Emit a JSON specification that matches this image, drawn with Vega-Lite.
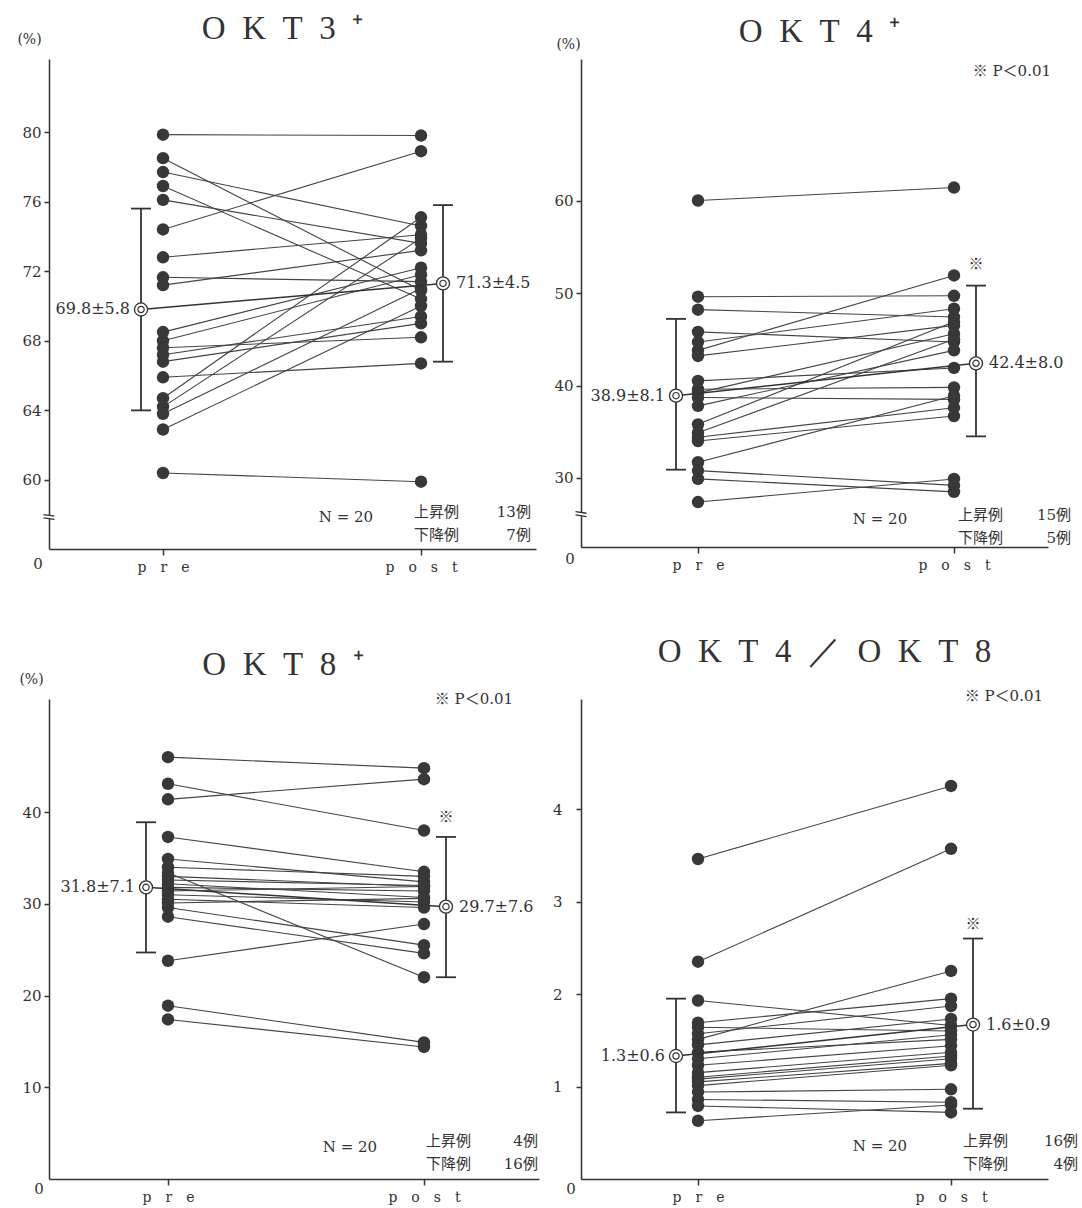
{
"$schema": "https://vega.github.io/schema/vega-lite/v6.json",
"padding": {"left": 16, "top": 13, "right": 10, "bottom": 2},
"background": "white",
"datasets": {
"pts": [
{"panel":"OKT3","subject":1,"time":0,"value":79.85},{"panel":"OKT3","subject":1,"time":1,"value":79.8},
{"panel":"OKT3","subject":2,"time":0,"value":78.5},{"panel":"OKT3","subject":2,"time":1,"value":70.9},
{"panel":"OKT3","subject":3,"time":0,"value":77.7},{"panel":"OKT3","subject":3,"time":1,"value":74.6},
{"panel":"OKT3","subject":4,"time":0,"value":76.9},{"panel":"OKT3","subject":4,"time":1,"value":70.4},
{"panel":"OKT3","subject":5,"time":0,"value":76.1},{"panel":"OKT3","subject":5,"time":1,"value":73.6},
{"panel":"OKT3","subject":6,"time":0,"value":74.4},{"panel":"OKT3","subject":6,"time":1,"value":78.9},
{"panel":"OKT3","subject":7,"time":0,"value":72.8},{"panel":"OKT3","subject":7,"time":1,"value":74.1},
{"panel":"OKT3","subject":8,"time":0,"value":71.65},{"panel":"OKT3","subject":8,"time":1,"value":71.4},
{"panel":"OKT3","subject":9,"time":0,"value":71.2},{"panel":"OKT3","subject":9,"time":1,"value":73.2},
{"panel":"OKT3","subject":10,"time":0,"value":68.5},{"panel":"OKT3","subject":10,"time":1,"value":72.2},
{"panel":"OKT3","subject":11,"time":0,"value":68.0},{"panel":"OKT3","subject":11,"time":1,"value":71.8},
{"panel":"OKT3","subject":12,"time":0,"value":67.6},{"panel":"OKT3","subject":12,"time":1,"value":68.2},
{"panel":"OKT3","subject":13,"time":0,"value":67.2},{"panel":"OKT3","subject":13,"time":1,"value":69.4},
{"panel":"OKT3","subject":14,"time":0,"value":66.8},{"panel":"OKT3","subject":14,"time":1,"value":69.0},
{"panel":"OKT3","subject":15,"time":0,"value":65.9},{"panel":"OKT3","subject":15,"time":1,"value":66.7},
{"panel":"OKT3","subject":16,"time":0,"value":64.7},{"panel":"OKT3","subject":16,"time":1,"value":75.1},
{"panel":"OKT3","subject":17,"time":0,"value":64.2},{"panel":"OKT3","subject":17,"time":1,"value":73.9},
{"panel":"OKT3","subject":18,"time":0,"value":63.8},{"panel":"OKT3","subject":18,"time":1,"value":71.0},
{"panel":"OKT3","subject":19,"time":0,"value":62.9},{"panel":"OKT3","subject":19,"time":1,"value":70.0},
{"panel":"OKT3","subject":20,"time":0,"value":60.4},{"panel":"OKT3","subject":20,"time":1,"value":59.9},
{"panel":"OKT4","subject":1,"time":0,"value":60.0},{"panel":"OKT4","subject":1,"time":1,"value":61.4},
{"panel":"OKT4","subject":2,"time":0,"value":49.6},{"panel":"OKT4","subject":2,"time":1,"value":49.7},
{"panel":"OKT4","subject":3,"time":0,"value":48.2},{"panel":"OKT4","subject":3,"time":1,"value":47.4},
{"panel":"OKT4","subject":4,"time":0,"value":45.8},{"panel":"OKT4","subject":4,"time":1,"value":44.7},
{"panel":"OKT4","subject":5,"time":0,"value":44.7},{"panel":"OKT4","subject":5,"time":1,"value":48.3},
{"panel":"OKT4","subject":6,"time":0,"value":43.8},{"panel":"OKT4","subject":6,"time":1,"value":51.9},
{"panel":"OKT4","subject":7,"time":0,"value":43.2},{"panel":"OKT4","subject":7,"time":1,"value":46.5},
{"panel":"OKT4","subject":8,"time":0,"value":40.5},{"panel":"OKT4","subject":8,"time":1,"value":41.9},
{"panel":"OKT4","subject":9,"time":0,"value":39.6},{"panel":"OKT4","subject":9,"time":1,"value":39.8},
{"panel":"OKT4","subject":10,"time":0,"value":39.2},{"panel":"OKT4","subject":10,"time":1,"value":45.6},
{"panel":"OKT4","subject":11,"time":0,"value":38.7},{"panel":"OKT4","subject":11,"time":1,"value":38.5},
{"panel":"OKT4","subject":12,"time":0,"value":37.8},{"panel":"OKT4","subject":12,"time":1,"value":43.8},
{"panel":"OKT4","subject":13,"time":0,"value":35.8},{"panel":"OKT4","subject":13,"time":1,"value":46.9},
{"panel":"OKT4","subject":14,"time":0,"value":34.9},{"panel":"OKT4","subject":14,"time":1,"value":45.0},
{"panel":"OKT4","subject":15,"time":0,"value":34.4},{"panel":"OKT4","subject":15,"time":1,"value":37.6},
{"panel":"OKT4","subject":16,"time":0,"value":34.0},{"panel":"OKT4","subject":16,"time":1,"value":36.7},
{"panel":"OKT4","subject":17,"time":0,"value":31.7},{"panel":"OKT4","subject":17,"time":1,"value":38.9},
{"panel":"OKT4","subject":18,"time":0,"value":30.8},{"panel":"OKT4","subject":18,"time":1,"value":29.2},
{"panel":"OKT4","subject":19,"time":0,"value":29.9},{"panel":"OKT4","subject":19,"time":1,"value":28.5},
{"panel":"OKT4","subject":20,"time":0,"value":27.4},{"panel":"OKT4","subject":20,"time":1,"value":29.9},
{"panel":"OKT8","subject":1,"time":0,"value":46.0},{"panel":"OKT8","subject":1,"time":1,"value":44.8},
{"panel":"OKT8","subject":2,"time":0,"value":43.1},{"panel":"OKT8","subject":2,"time":1,"value":38.0},
{"panel":"OKT8","subject":3,"time":0,"value":41.4},{"panel":"OKT8","subject":3,"time":1,"value":43.6},
{"panel":"OKT8","subject":4,"time":0,"value":37.3},{"panel":"OKT8","subject":4,"time":1,"value":33.5},
{"panel":"OKT8","subject":5,"time":0,"value":34.9},{"panel":"OKT8","subject":5,"time":1,"value":32.4},
{"panel":"OKT8","subject":6,"time":0,"value":34.0},{"panel":"OKT8","subject":6,"time":1,"value":33.0},
{"panel":"OKT8","subject":7,"time":0,"value":33.4},{"panel":"OKT8","subject":7,"time":1,"value":22.0},
{"panel":"OKT8","subject":8,"time":0,"value":33.0},{"panel":"OKT8","subject":8,"time":1,"value":31.9},
{"panel":"OKT8","subject":9,"time":0,"value":32.6},{"panel":"OKT8","subject":9,"time":1,"value":32.0},
{"panel":"OKT8","subject":10,"time":0,"value":32.2},{"panel":"OKT8","subject":10,"time":1,"value":30.7},
{"panel":"OKT8","subject":11,"time":0,"value":31.8},{"panel":"OKT8","subject":11,"time":1,"value":31.4},
{"panel":"OKT8","subject":12,"time":0,"value":31.4},{"panel":"OKT8","subject":12,"time":1,"value":31.9},
{"panel":"OKT8","subject":13,"time":0,"value":31.0},{"panel":"OKT8","subject":13,"time":1,"value":30.2},
{"panel":"OKT8","subject":14,"time":0,"value":30.5},{"panel":"OKT8","subject":14,"time":1,"value":29.6},
{"panel":"OKT8","subject":15,"time":0,"value":30.1},{"panel":"OKT8","subject":15,"time":1,"value":30.6},
{"panel":"OKT8","subject":16,"time":0,"value":29.6},{"panel":"OKT8","subject":16,"time":1,"value":25.5},
{"panel":"OKT8","subject":17,"time":0,"value":28.6},{"panel":"OKT8","subject":17,"time":1,"value":24.6},
{"panel":"OKT8","subject":18,"time":0,"value":23.8},{"panel":"OKT8","subject":18,"time":1,"value":27.8},
{"panel":"OKT8","subject":19,"time":0,"value":18.9},{"panel":"OKT8","subject":19,"time":1,"value":14.9},
{"panel":"OKT8","subject":20,"time":0,"value":17.4},{"panel":"OKT8","subject":20,"time":1,"value":14.4},
{"panel":"OKT4/OKT8","subject":1,"time":0,"value":3.46},{"panel":"OKT4/OKT8","subject":1,"time":1,"value":4.25},
{"panel":"OKT4/OKT8","subject":2,"time":0,"value":2.35},{"panel":"OKT4/OKT8","subject":2,"time":1,"value":3.57},
{"panel":"OKT4/OKT8","subject":3,"time":0,"value":1.93},{"panel":"OKT4/OKT8","subject":3,"time":1,"value":1.66},
{"panel":"OKT4/OKT8","subject":4,"time":0,"value":1.69},{"panel":"OKT4/OKT8","subject":4,"time":1,"value":1.95},
{"panel":"OKT4/OKT8","subject":5,"time":0,"value":1.64},{"panel":"OKT4/OKT8","subject":5,"time":1,"value":1.60},
{"panel":"OKT4/OKT8","subject":6,"time":0,"value":1.57},{"panel":"OKT4/OKT8","subject":6,"time":1,"value":1.87},
{"panel":"OKT4/OKT8","subject":7,"time":0,"value":1.51},{"panel":"OKT4/OKT8","subject":7,"time":1,"value":2.25},
{"panel":"OKT4/OKT8","subject":8,"time":0,"value":1.45},{"panel":"OKT4/OKT8","subject":8,"time":1,"value":1.73},
{"panel":"OKT4/OKT8","subject":9,"time":0,"value":1.37},{"panel":"OKT4/OKT8","subject":9,"time":1,"value":1.51},
{"panel":"OKT4/OKT8","subject":10,"time":0,"value":1.30},{"panel":"OKT4/OKT8","subject":10,"time":1,"value":1.56},
{"panel":"OKT4/OKT8","subject":11,"time":0,"value":1.23},{"panel":"OKT4/OKT8","subject":11,"time":1,"value":1.44},
{"panel":"OKT4/OKT8","subject":12,"time":0,"value":1.15},{"panel":"OKT4/OKT8","subject":12,"time":1,"value":1.37},
{"panel":"OKT4/OKT8","subject":13,"time":0,"value":1.10},{"panel":"OKT4/OKT8","subject":13,"time":1,"value":1.33},
{"panel":"OKT4/OKT8","subject":14,"time":0,"value":1.08},{"panel":"OKT4/OKT8","subject":14,"time":1,"value":1.30},
{"panel":"OKT4/OKT8","subject":15,"time":0,"value":1.05},{"panel":"OKT4/OKT8","subject":15,"time":1,"value":1.25},
{"panel":"OKT4/OKT8","subject":16,"time":0,"value":1.01},{"panel":"OKT4/OKT8","subject":16,"time":1,"value":1.23},
{"panel":"OKT4/OKT8","subject":17,"time":0,"value":0.94},{"panel":"OKT4/OKT8","subject":17,"time":1,"value":0.97},
{"panel":"OKT4/OKT8","subject":18,"time":0,"value":0.86},{"panel":"OKT4/OKT8","subject":18,"time":1,"value":0.83},
{"panel":"OKT4/OKT8","subject":19,"time":0,"value":0.79},{"panel":"OKT4/OKT8","subject":19,"time":1,"value":0.72},
{"panel":"OKT4/OKT8","subject":20,"time":0,"value":0.63},{"panel":"OKT4/OKT8","subject":20,"time":1,"value":0.80}
],
"sum": [
{"panel":"OKT3","preMean":69.8,"preLo":64.0,"preHi":75.6,"postMean":71.3,"postLo":66.8,"postHi":75.8,"preLabel":"69.8±5.8","postLabel":"71.3±4.5"},
{"panel":"OKT4","preMean":38.9,"preLo":30.9,"preHi":47.2,"postMean":42.4,"postLo":34.5,"postHi":50.8,"preLabel":"38.9±8.1","postLabel":"42.4±8.0"},
{"panel":"OKT8","preMean":31.8,"preLo":24.7,"preHi":38.9,"postMean":29.7,"postLo":22.0,"postHi":37.3,"preLabel":"31.8±7.1","postLabel":"29.7±7.6"},
{"panel":"OKT4/OKT8","preMean":1.33,"preLo":0.72,"preHi":1.95,"postMean":1.67,"postLo":0.76,"postHi":2.6,"preLabel":"1.3±0.6","postLabel":"1.6±0.9"}
]
},
"columns": 2,
"spacing": {"row": 150, "column": 42},
"bounds": "flush",
"align": "each",
"resolve": {"scale": {"x": "independent", "y": "independent"}},
"concat": [
{
"width": 487, "height": 490,
"title": {"text": "O\u2002K\u2002T\u20023\u2002\u207a", "dx": -10, "offset": -14, "fontSize": 33},
"layer": [
{"data": {"name": "pts"}, "transform": [{"filter": "datum.panel == 'OKT3'"}],
"mark": {"type": "line", "color": "#444", "strokeWidth": 1.1},
"encoding": {
"x": {"field": "time", "type": "quantitative", "scale": {"domain": [-0.4419, 1.4457], "nice": false, "zero": false}, "axis": {"values": [0, 1], "labelExpr": "datum.value == 0 ? 'p\u2003r\u2003e' : 'p\u2003o\u2003s\u2003t'", "title": null}},
"y": {"field": "value", "type": "quantitative", "scale": {"domain": [56.03, 84.2], "nice": false, "zero": false}, "axis": {"values": [60, 64, 68, 72, 76, 80], "title": "(%)", "titleX": -20, "titleY": -20}},
"detail": {"field": "subject", "type": "nominal"}}},
{"data": {"name": "pts"}, "transform": [{"filter": "datum.panel == 'OKT3'"}],
"mark": {"type": "point", "filled": true, "size": 155, "color": "#383838", "opacity": 1},
"encoding": {"x": {"field": "time", "type": "quantitative"}, "y": {"field": "value", "type": "quantitative"}}},
{"data": {"name": "sum"}, "transform": [{"filter": "datum.panel == 'OKT3'"}],
"layer": [
{"mark": {"type": "rule", "color": "#333", "strokeWidth": 1.5, "xOffset": -22, "x2Offset": 22}, "encoding": {"x": {"datum": 0}, "x2": {"datum": 1}, "y": {"field": "preMean", "type": "quantitative"}, "y2": {"field": "postMean"}}},
{"mark": {"type": "rule", "color": "#333", "strokeWidth": 1.8, "xOffset": -22}, "encoding": {"x": {"datum": 0}, "y": {"field": "preLo", "type": "quantitative"}, "y2": {"field": "preHi"}}},
{"mark": {"type": "rule", "color": "#333", "strokeWidth": 1.8, "xOffset": 22}, "encoding": {"x": {"datum": 1}, "y": {"field": "postLo", "type": "quantitative"}, "y2": {"field": "postHi"}}},
{"transform": [{"fold": ["preLo", "preHi"], "as": ["k", "v"]}], "mark": {"type": "point", "shape": "stroke", "size": 400, "filled": false, "stroke": "#333", "strokeWidth": 1.8, "opacity": 1, "xOffset": -22}, "encoding": {"x": {"datum": 0}, "y": {"field": "v", "type": "quantitative"}}},
{"transform": [{"fold": ["postLo", "postHi"], "as": ["k", "v"]}], "mark": {"type": "point", "shape": "stroke", "size": 400, "filled": false, "stroke": "#333", "strokeWidth": 1.8, "opacity": 1, "xOffset": 22}, "encoding": {"x": {"datum": 1}, "y": {"field": "v", "type": "quantitative"}}},
{"mark": {"type": "point", "shape": "circle", "size": 170, "filled": true, "fill": "white", "stroke": "#333", "strokeWidth": 1.3, "opacity": 1, "xOffset": -22}, "encoding": {"x": {"datum": 0}, "y": {"field": "preMean", "type": "quantitative"}}},
{"mark": {"type": "point", "shape": "circle", "size": 40, "filled": false, "stroke": "#333", "strokeWidth": 1.2, "opacity": 1, "xOffset": -22}, "encoding": {"x": {"datum": 0}, "y": {"field": "preMean", "type": "quantitative"}}},
{"mark": {"type": "point", "shape": "circle", "size": 170, "filled": true, "fill": "white", "stroke": "#333", "strokeWidth": 1.3, "opacity": 1, "xOffset": 22}, "encoding": {"x": {"datum": 1}, "y": {"field": "postMean", "type": "quantitative"}}},
{"mark": {"type": "point", "shape": "circle", "size": 40, "filled": false, "stroke": "#333", "strokeWidth": 1.2, "opacity": 1, "xOffset": 22}, "encoding": {"x": {"datum": 1}, "y": {"field": "postMean", "type": "quantitative"}}},
{"mark": {"type": "text", "align": "right", "baseline": "middle", "dx": -33, "fontSize": 16}, "encoding": {"x": {"datum": 0}, "y": {"field": "preMean", "type": "quantitative"}, "text": {"field": "preLabel"}}},
{"mark": {"type": "text", "align": "left", "baseline": "middle", "dx": 35, "fontSize": 16}, "encoding": {"x": {"datum": 1}, "y": {"field": "postMean", "type": "quantitative"}, "text": {"field": "postLabel"}}},
{"mark": {"type": "text", "text": "0", "dx": -11, "dy": 15}, "encoding": {"x": {"datum": -0.4419}, "y": {"datum": 56.03}}},
{"mark": {"type": "point", "shape": "square", "size": 14, "filled": true, "color": "white", "opacity": 1}, "encoding": {"x": {"datum": -0.4419}, "y": {"datum": 57.87}}},
{"mark": {"type": "point", "shape": "M-1,-0.45L1,-0.15M-1,0.15L1,0.45", "size": 121, "filled": false, "stroke": "#333", "strokeWidth": 1.3, "opacity": 1}, "encoding": {"x": {"datum": -0.4419}, "y": {"datum": 57.87}}},
{"mark": {"type": "text", "text": "N = 20", "baseline": "middle"}, "encoding": {"x": {"datum": 0.709}, "y": {"datum": 57.87}}},
{"mark": {"type": "text", "text": ["上昇例", "下降例"], "align": "left", "baseline": "middle", "lineHeight": 23, "font": "Noto Sans CJK JP", "fontSize": 15}, "encoding": {"x": {"datum": 0.973}, "y": {"datum": 58.13}}},
{"mark": {"type": "text", "text": ["13例", "7例"], "align": "right", "baseline": "middle", "lineHeight": 23, "font": "DejaVu Serif, Noto Sans CJK JP", "fontSize": 15}, "encoding": {"x": {"datum": 1.426}, "y": {"datum": 58.13}}}
]}
]
},
{
"width": 467, "height": 488,
"title": {"text": "O\u2002K\u2002T\u20024\u2002\u207a", "dx": 5, "offset": -12, "fontSize": 33},
"layer": [
{"data": {"name": "pts"}, "transform": [{"filter": "datum.panel == 'OKT4'"}],
"mark": {"type": "line", "color": "#444", "strokeWidth": 1.1},
"encoding": {
"x": {"field": "time", "type": "quantitative", "scale": {"domain": [-0.457, 1.3672], "nice": false, "zero": false}, "axis": {"values": [0, 1], "labelExpr": "datum.value == 0 ? 'p\u2003r\u2003e' : 'p\u2003o\u2003s\u2003t'", "title": null}},
"y": {"field": "value", "type": "quantitative", "scale": {"domain": [22.54, 75.3], "nice": false, "zero": false}, "axis": {"values": [30, 40, 50, 60], "title": "(%)", "titleX": -13, "titleY": -15}},
"detail": {"field": "subject", "type": "nominal"}}},
{"data": {"name": "pts"}, "transform": [{"filter": "datum.panel == 'OKT4'"}],
"mark": {"type": "point", "filled": true, "size": 155, "color": "#383838", "opacity": 1},
"encoding": {"x": {"field": "time", "type": "quantitative"}, "y": {"field": "value", "type": "quantitative"}}},
{"data": {"name": "sum"}, "transform": [{"filter": "datum.panel == 'OKT4'"}],
"layer": [
{"mark": {"type": "rule", "color": "#333", "strokeWidth": 1.5, "xOffset": -22, "x2Offset": 22}, "encoding": {"x": {"datum": 0}, "x2": {"datum": 1}, "y": {"field": "preMean", "type": "quantitative"}, "y2": {"field": "postMean"}}},
{"mark": {"type": "rule", "color": "#333", "strokeWidth": 1.8, "xOffset": -22}, "encoding": {"x": {"datum": 0}, "y": {"field": "preLo", "type": "quantitative"}, "y2": {"field": "preHi"}}},
{"mark": {"type": "rule", "color": "#333", "strokeWidth": 1.8, "xOffset": 22}, "encoding": {"x": {"datum": 1}, "y": {"field": "postLo", "type": "quantitative"}, "y2": {"field": "postHi"}}},
{"transform": [{"fold": ["preLo", "preHi"], "as": ["k", "v"]}], "mark": {"type": "point", "shape": "stroke", "size": 400, "filled": false, "stroke": "#333", "strokeWidth": 1.8, "opacity": 1, "xOffset": -22}, "encoding": {"x": {"datum": 0}, "y": {"field": "v", "type": "quantitative"}}},
{"transform": [{"fold": ["postLo", "postHi"], "as": ["k", "v"]}], "mark": {"type": "point", "shape": "stroke", "size": 400, "filled": false, "stroke": "#333", "strokeWidth": 1.8, "opacity": 1, "xOffset": 22}, "encoding": {"x": {"datum": 1}, "y": {"field": "v", "type": "quantitative"}}},
{"mark": {"type": "point", "shape": "circle", "size": 170, "filled": true, "fill": "white", "stroke": "#333", "strokeWidth": 1.3, "opacity": 1, "xOffset": -22}, "encoding": {"x": {"datum": 0}, "y": {"field": "preMean", "type": "quantitative"}}},
{"mark": {"type": "point", "shape": "circle", "size": 40, "filled": false, "stroke": "#333", "strokeWidth": 1.2, "opacity": 1, "xOffset": -22}, "encoding": {"x": {"datum": 0}, "y": {"field": "preMean", "type": "quantitative"}}},
{"mark": {"type": "point", "shape": "circle", "size": 170, "filled": true, "fill": "white", "stroke": "#333", "strokeWidth": 1.3, "opacity": 1, "xOffset": 22}, "encoding": {"x": {"datum": 1}, "y": {"field": "postMean", "type": "quantitative"}}},
{"mark": {"type": "point", "shape": "circle", "size": 40, "filled": false, "stroke": "#333", "strokeWidth": 1.2, "opacity": 1, "xOffset": 22}, "encoding": {"x": {"datum": 1}, "y": {"field": "postMean", "type": "quantitative"}}},
{"mark": {"type": "text", "align": "right", "baseline": "middle", "dx": -33, "fontSize": 16}, "encoding": {"x": {"datum": 0}, "y": {"field": "preMean", "type": "quantitative"}, "text": {"field": "preLabel"}}},
{"mark": {"type": "text", "align": "left", "baseline": "middle", "dx": 35, "fontSize": 16}, "encoding": {"x": {"datum": 1}, "y": {"field": "postMean", "type": "quantitative"}, "text": {"field": "postLabel"}}},
{"mark": {"type": "text", "text": "0", "dx": -11, "dy": 12}, "encoding": {"x": {"datum": -0.457}, "y": {"datum": 22.54}}},
{"mark": {"type": "point", "shape": "square", "size": 14, "filled": true, "color": "white", "opacity": 1}, "encoding": {"x": {"datum": -0.457}, "y": {"datum": 26.1}}},
{"mark": {"type": "point", "shape": "M-1,-0.45L1,-0.15M-1,0.15L1,0.45", "size": 121, "filled": false, "stroke": "#333", "strokeWidth": 1.3, "opacity": 1}, "encoding": {"x": {"datum": -0.457}, "y": {"datum": 26.1}}},
{"mark": {"type": "text", "text": "N = 20", "baseline": "middle"}, "encoding": {"x": {"datum": 0.711}, "y": {"datum": 25.57}}},
{"mark": {"type": "text", "text": ["上昇例", "下降例"], "align": "left", "baseline": "middle", "lineHeight": 23, "font": "Noto Sans CJK JP", "fontSize": 15}, "encoding": {"x": {"datum": 1.016}, "y": {"datum": 25.95}}},
{"mark": {"type": "text", "text": ["15例", "5例"], "align": "right", "baseline": "middle", "lineHeight": 23, "font": "DejaVu Serif, Noto Sans CJK JP", "fontSize": 15}, "encoding": {"x": {"datum": 1.457}, "y": {"datum": 25.95}}},
{"mark": {"type": "text", "text": "※ P＜0.01", "align": "right", "baseline": "middle", "font": "DejaVu Serif, Noto Sans CJK JP", "fontSize": 15}, "encoding": {"x": {"datum": 1.379}, "y": {"datum": 74.0}}},
{"mark": {"type": "text", "text": "※", "baseline": "middle", "dx": 22, "font": "Noto Sans CJK JP", "fontSize": 15}, "encoding": {"x": {"datum": 1}, "y": {"datum": 53.1}}}
]}
]
},
{
"width": 490, "height": 480,
"title": {"text": "O\u2002K\u2002T\u20028\u2002\u207a", "dx": -11, "offset": -10, "fontSize": 33},
"layer": [
{"data": {"name": "pts"}, "transform": [{"filter": "datum.panel == 'OKT8'"}],
"mark": {"type": "line", "color": "#444", "strokeWidth": 1.1},
"encoding": {
"x": {"field": "time", "type": "quantitative", "scale": {"domain": [-0.4648, 1.4493], "nice": false, "zero": false}, "axis": {"values": [0, 1], "labelExpr": "datum.value == 0 ? 'p\u2003r\u2003e' : 'p\u2003o\u2003s\u2003t'", "title": null}},
"y": {"field": "value", "type": "quantitative", "scale": {"domain": [0, 52.34], "nice": false, "zero": false}, "axis": {"values": [10, 20, 30, 40], "title": "(%)", "titleX": -18, "titleY": -20}},
"detail": {"field": "subject", "type": "nominal"}}},
{"data": {"name": "pts"}, "transform": [{"filter": "datum.panel == 'OKT8'"}],
"mark": {"type": "point", "filled": true, "size": 155, "color": "#383838", "opacity": 1},
"encoding": {"x": {"field": "time", "type": "quantitative"}, "y": {"field": "value", "type": "quantitative"}}},
{"data": {"name": "sum"}, "transform": [{"filter": "datum.panel == 'OKT8'"}],
"layer": [
{"mark": {"type": "rule", "color": "#333", "strokeWidth": 1.5, "xOffset": -22, "x2Offset": 22}, "encoding": {"x": {"datum": 0}, "x2": {"datum": 1}, "y": {"field": "preMean", "type": "quantitative"}, "y2": {"field": "postMean"}}},
{"mark": {"type": "rule", "color": "#333", "strokeWidth": 1.8, "xOffset": -22}, "encoding": {"x": {"datum": 0}, "y": {"field": "preLo", "type": "quantitative"}, "y2": {"field": "preHi"}}},
{"mark": {"type": "rule", "color": "#333", "strokeWidth": 1.8, "xOffset": 22}, "encoding": {"x": {"datum": 1}, "y": {"field": "postLo", "type": "quantitative"}, "y2": {"field": "postHi"}}},
{"transform": [{"fold": ["preLo", "preHi"], "as": ["k", "v"]}], "mark": {"type": "point", "shape": "stroke", "size": 400, "filled": false, "stroke": "#333", "strokeWidth": 1.8, "opacity": 1, "xOffset": -22}, "encoding": {"x": {"datum": 0}, "y": {"field": "v", "type": "quantitative"}}},
{"transform": [{"fold": ["postLo", "postHi"], "as": ["k", "v"]}], "mark": {"type": "point", "shape": "stroke", "size": 400, "filled": false, "stroke": "#333", "strokeWidth": 1.8, "opacity": 1, "xOffset": 22}, "encoding": {"x": {"datum": 1}, "y": {"field": "v", "type": "quantitative"}}},
{"mark": {"type": "point", "shape": "circle", "size": 170, "filled": true, "fill": "white", "stroke": "#333", "strokeWidth": 1.3, "opacity": 1, "xOffset": -22}, "encoding": {"x": {"datum": 0}, "y": {"field": "preMean", "type": "quantitative"}}},
{"mark": {"type": "point", "shape": "circle", "size": 40, "filled": false, "stroke": "#333", "strokeWidth": 1.2, "opacity": 1, "xOffset": -22}, "encoding": {"x": {"datum": 0}, "y": {"field": "preMean", "type": "quantitative"}}},
{"mark": {"type": "point", "shape": "circle", "size": 170, "filled": true, "fill": "white", "stroke": "#333", "strokeWidth": 1.3, "opacity": 1, "xOffset": 22}, "encoding": {"x": {"datum": 1}, "y": {"field": "postMean", "type": "quantitative"}}},
{"mark": {"type": "point", "shape": "circle", "size": 40, "filled": false, "stroke": "#333", "strokeWidth": 1.2, "opacity": 1, "xOffset": 22}, "encoding": {"x": {"datum": 1}, "y": {"field": "postMean", "type": "quantitative"}}},
{"mark": {"type": "text", "align": "right", "baseline": "middle", "dx": -33, "fontSize": 16}, "encoding": {"x": {"datum": 0}, "y": {"field": "preMean", "type": "quantitative"}, "text": {"field": "preLabel"}}},
{"mark": {"type": "text", "align": "left", "baseline": "middle", "dx": 35, "fontSize": 16}, "encoding": {"x": {"datum": 1}, "y": {"field": "postMean", "type": "quantitative"}, "text": {"field": "postLabel"}}},
{"mark": {"type": "text", "text": "0", "dx": -10, "dy": 10}, "encoding": {"x": {"datum": -0.4648}, "y": {"datum": 0}}},
{"mark": {"type": "text", "text": "N = 20", "baseline": "middle"}, "encoding": {"x": {"datum": 0.711}, "y": {"datum": 3.49}}},
{"mark": {"type": "text", "text": ["上昇例", "下降例"], "align": "left", "baseline": "middle", "lineHeight": 23, "font": "Noto Sans CJK JP", "fontSize": 15}, "encoding": {"x": {"datum": 1.008}, "y": {"datum": 4.14}}},
{"mark": {"type": "text", "text": ["4例", "16例"], "align": "right", "baseline": "middle", "lineHeight": 23, "font": "DejaVu Serif, Noto Sans CJK JP", "fontSize": 15}, "encoding": {"x": {"datum": 1.445}, "y": {"datum": 4.14}}},
{"mark": {"type": "text", "text": "※ P＜0.01", "align": "right", "baseline": "middle", "font": "DejaVu Serif, Noto Sans CJK JP", "fontSize": 15}, "encoding": {"x": {"datum": 1.348}, "y": {"datum": 52.34}}},
{"mark": {"type": "text", "text": "※", "baseline": "middle", "dx": 22, "font": "Noto Sans CJK JP", "fontSize": 15}, "encoding": {"x": {"datum": 1}, "y": {"datum": 39.5}}}
]}
]
},
{
"width": 467, "height": 480,
"title": {"text": "O\u2002K\u2002T\u20024\u2002／\u2002O\u2002K\u2002T\u20028", "dx": 10, "offset": 20, "fontSize": 33},
"layer": [
{"data": {"name": "pts"}, "transform": [{"filter": "datum.panel == 'OKT4/OKT8'"}],
"mark": {"type": "line", "color": "#444", "strokeWidth": 1.1},
"encoding": {
"x": {"field": "time", "type": "quantitative", "scale": {"domain": [-0.4625, 1.3833], "nice": false, "zero": false}, "axis": {"values": [0, 1], "labelExpr": "datum.value == 0 ? 'p\u2003r\u2003e' : 'p\u2003o\u2003s\u2003t'", "title": null}},
"y": {"field": "value", "type": "quantitative", "scale": {"domain": [0, 5.19], "nice": false, "zero": false}, "axis": {"values": [1, 2, 3, 4], "format": "d", "title": null, "labelPadding": 14}},
"detail": {"field": "subject", "type": "nominal"}}},
{"data": {"name": "pts"}, "transform": [{"filter": "datum.panel == 'OKT4/OKT8'"}],
"mark": {"type": "point", "filled": true, "size": 155, "color": "#383838", "opacity": 1},
"encoding": {"x": {"field": "time", "type": "quantitative"}, "y": {"field": "value", "type": "quantitative"}}},
{"data": {"name": "sum"}, "transform": [{"filter": "datum.panel == 'OKT4/OKT8'"}],
"layer": [
{"mark": {"type": "rule", "color": "#333", "strokeWidth": 1.5, "xOffset": -22, "x2Offset": 22}, "encoding": {"x": {"datum": 0}, "x2": {"datum": 1}, "y": {"field": "preMean", "type": "quantitative"}, "y2": {"field": "postMean"}}},
{"mark": {"type": "rule", "color": "#333", "strokeWidth": 1.8, "xOffset": -22}, "encoding": {"x": {"datum": 0}, "y": {"field": "preLo", "type": "quantitative"}, "y2": {"field": "preHi"}}},
{"mark": {"type": "rule", "color": "#333", "strokeWidth": 1.8, "xOffset": 22}, "encoding": {"x": {"datum": 1}, "y": {"field": "postLo", "type": "quantitative"}, "y2": {"field": "postHi"}}},
{"transform": [{"fold": ["preLo", "preHi"], "as": ["k", "v"]}], "mark": {"type": "point", "shape": "stroke", "size": 400, "filled": false, "stroke": "#333", "strokeWidth": 1.8, "opacity": 1, "xOffset": -22}, "encoding": {"x": {"datum": 0}, "y": {"field": "v", "type": "quantitative"}}},
{"transform": [{"fold": ["postLo", "postHi"], "as": ["k", "v"]}], "mark": {"type": "point", "shape": "stroke", "size": 400, "filled": false, "stroke": "#333", "strokeWidth": 1.8, "opacity": 1, "xOffset": 22}, "encoding": {"x": {"datum": 1}, "y": {"field": "v", "type": "quantitative"}}},
{"mark": {"type": "point", "shape": "circle", "size": 170, "filled": true, "fill": "white", "stroke": "#333", "strokeWidth": 1.3, "opacity": 1, "xOffset": -22}, "encoding": {"x": {"datum": 0}, "y": {"field": "preMean", "type": "quantitative"}}},
{"mark": {"type": "point", "shape": "circle", "size": 40, "filled": false, "stroke": "#333", "strokeWidth": 1.2, "opacity": 1, "xOffset": -22}, "encoding": {"x": {"datum": 0}, "y": {"field": "preMean", "type": "quantitative"}}},
{"mark": {"type": "point", "shape": "circle", "size": 170, "filled": true, "fill": "white", "stroke": "#333", "strokeWidth": 1.3, "opacity": 1, "xOffset": 22}, "encoding": {"x": {"datum": 1}, "y": {"field": "postMean", "type": "quantitative"}}},
{"mark": {"type": "point", "shape": "circle", "size": 40, "filled": false, "stroke": "#333", "strokeWidth": 1.2, "opacity": 1, "xOffset": 22}, "encoding": {"x": {"datum": 1}, "y": {"field": "postMean", "type": "quantitative"}}},
{"mark": {"type": "text", "align": "right", "baseline": "middle", "dx": -33, "fontSize": 16}, "encoding": {"x": {"datum": 0}, "y": {"field": "preMean", "type": "quantitative"}, "text": {"field": "preLabel"}}},
{"mark": {"type": "text", "align": "left", "baseline": "middle", "dx": 35, "fontSize": 16}, "encoding": {"x": {"datum": 1}, "y": {"field": "postMean", "type": "quantitative"}, "text": {"field": "postLabel"}}},
{"mark": {"type": "text", "text": "0", "dx": -10, "dy": 10}, "encoding": {"x": {"datum": -0.4625}, "y": {"datum": 0}}},
{"mark": {"type": "text", "text": "N = 20", "baseline": "middle"}, "encoding": {"x": {"datum": 0.719}, "y": {"datum": 0.357}}},
{"mark": {"type": "text", "text": ["上昇例", "下降例"], "align": "left", "baseline": "middle", "lineHeight": 23, "font": "Noto Sans CJK JP", "fontSize": 15}, "encoding": {"x": {"datum": 1.047}, "y": {"datum": 0.41}}},
{"mark": {"type": "text", "text": ["16例", "4例"], "align": "right", "baseline": "middle", "lineHeight": 23, "font": "DejaVu Serif, Noto Sans CJK JP", "fontSize": 15}, "encoding": {"x": {"datum": 1.502}, "y": {"datum": 0.41}}},
{"mark": {"type": "text", "text": "※ P＜0.01", "align": "right", "baseline": "middle", "font": "DejaVu Serif, Noto Sans CJK JP", "fontSize": 15}, "encoding": {"x": {"datum": 1.3636}, "y": {"datum": 5.22}}},
{"mark": {"type": "text", "text": "※", "baseline": "middle", "dx": 22, "font": "Noto Sans CJK JP", "fontSize": 15}, "encoding": {"x": {"datum": 1}, "y": {"datum": 2.76}}}
]}
]
}
],
"config": {
"view": {"stroke": null},
"font": "DejaVu Serif",
"axis": {"domainColor": "#333", "domainWidth": 1.5, "tickColor": "#333", "tickWidth": 1.5, "tickSize": 5, "labelColor": "#333", "labelFont": "DejaVu Serif", "labelFontSize": 15, "labelPadding": 3, "grid": false, "titleFont": "DejaVu Serif", "titleFontSize": 14, "titleFontWeight": "normal", "titleColor": "#333", "titleAngle": 0, "titleAlign": "center", "titleBaseline": "middle"},
"axisX": {"labelFontSize": 14, "labelPadding": 5, "tickSize": 6},
"title": {"font": "Liberation Serif", "fontSize": 30, "fontWeight": "normal", "color": "#333", "anchor": "middle", "frame": "group"},
"text": {"font": "DejaVu Serif", "fontSize": 15, "color": "#333"}
}
}
